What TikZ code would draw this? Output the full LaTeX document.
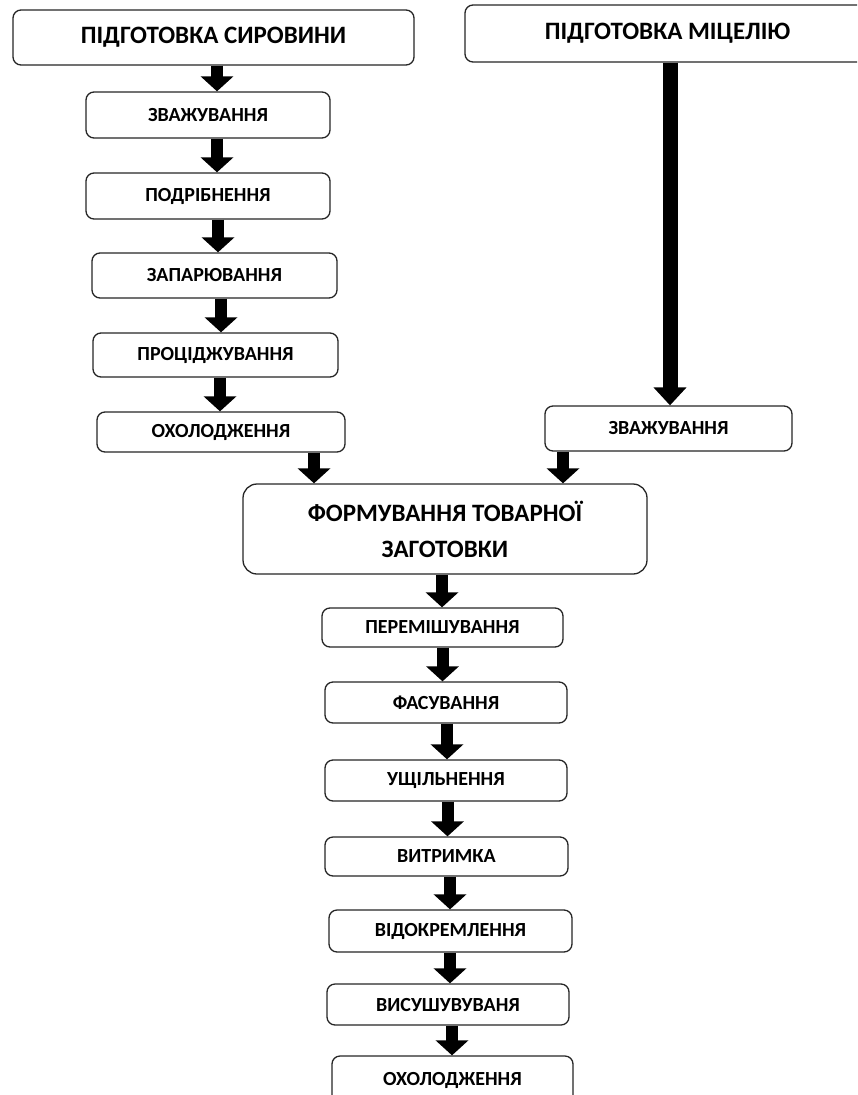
\documentclass[tikz,border=0pt]{standalone}
\usepackage{fontspec}
\setmainfont{Carlito}
\usetikzlibrary{arrows.meta}
\begin{document}
\begin{tikzpicture}[x=1pt,y=-1pt,
  box/.style={draw=black!85, line width=1.3pt, rounded corners=8pt, fill=white, inner sep=0pt, align=center, font=\bfseries\fontsize{20}{24}\selectfont},
  bigbox/.style={box, font=\bfseries\fontsize{25}{36}\selectfont},
  arr/.style={draw=black, line width=12pt, -{Triangle[width=32pt,length=15pt]}},
  longarr/.style={draw=black, line width=15pt, -{Triangle[width=32pt,length=18pt]}}]
\useasboundingbox (0,0) rectangle (857,1095);
\clip (0,0) rectangle (857,1095);
\node[bigbox, minimum width=401pt, minimum height=55pt] (b1) at (213.5,37.5) {ПІДГОТОВКА СИРОВИНИ};
\node[bigbox, minimum width=405pt, minimum height=57pt] (b2) at (667.5,33.5) {ПІДГОТОВКА МІЦЕЛІЮ};
\node[box, minimum width=244pt, minimum height=46pt] (z1) at (208,115) {ЗВАЖУВАННЯ};
\node[box, minimum width=244pt, minimum height=46pt] (p) at (208,196) {ПОДРІБНЕННЯ};
\node[box, minimum width=245pt, minimum height=45pt] (zap) at (214.5,275.5) {ЗАПАРЮВАННЯ};
\node[box, minimum width=245pt, minimum height=44pt] (pro) at (215.5,355) {ПРОЦІДЖУВАННЯ};
\node[box, minimum width=248pt, minimum height=40pt] (oh1) at (221,432) {ОХОЛОДЖЕННЯ};
\node[box, minimum width=247pt, minimum height=45pt] (z2) at (668.5,428.5) {ЗВАЖУВАННЯ};
\node[bigbox, minimum width=404pt, minimum height=90pt, rounded corners=14pt] (f) at (445,529) {ФОРМУВАННЯ ТОВАРНОЇ\\ЗАГОТОВКИ};
\node[box, minimum width=241pt, minimum height=39pt] (per) at (442.5,627.5) {ПЕРЕМІШУВАННЯ};
\node[box, minimum width=242pt, minimum height=41pt] (fas) at (446,702.5) {ФАСУВАННЯ};
\node[box, minimum width=242pt, minimum height=41pt] (ush) at (446,780.5) {УЩІЛЬНЕННЯ};
\node[box, minimum width=243pt, minimum height=39pt] (vyt) at (446.5,856.5) {ВИТРИМКА};
\node[box, minimum width=243pt, minimum height=42pt] (vid) at (450.5,931) {ВІДОКРЕМЛЕННЯ};
\node[box, minimum width=242pt, minimum height=41pt] (vys) at (448,1004.5) {ВИСУШУВУВАНЯ};
\node[box, minimum width=241pt, minimum height=48pt] (oh2) at (452.5,1080) {ОХОЛОДЖЕННЯ};
\draw[arr] ([xshift=3.5pt]b1.south) -- ([xshift=3.5pt]b1.south |- z1.north);
\draw[arr] ([xshift=9pt]z1.south) -- ([xshift=9pt]z1.south |- p.north);
\draw[arr] ([xshift=10pt]p.south) -- ([xshift=10pt]p.south |- zap.north);
\draw[arr] ([xshift=6.5pt]zap.south) -- ([xshift=6.5pt]zap.south |- pro.north);
\draw[arr] ([xshift=4.5pt]pro.south) -- ([xshift=4.5pt]pro.south |- oh1.north);
\draw[arr] ([xshift=93pt]oh1.south) -- ([xshift=93pt]oh1.south |- f.north);
\draw[longarr] ([xshift=2.5pt]b2.south) -- ([xshift=2.5pt]b2.south |- z2.north);
\draw[arr] ([xshift=-105.5pt]z2.south) -- ([xshift=-105.5pt]z2.south |- f.north);
\draw[arr] ([xshift=-3pt]f.south) -- ([xshift=-3pt]f.south |- per.north);
\draw[arr] (per.south) -- (per.south |- fas.north);
\draw[arr] ([xshift=1pt]fas.south) -- ([xshift=1pt]fas.south |- ush.north);
\draw[arr] ([xshift=1.5pt]ush.south) -- ([xshift=1.5pt]ush.south |- vyt.north);
\draw[arr] ([xshift=3.5pt]vyt.south) -- ([xshift=3.5pt]vyt.south |- vid.north);
\draw[arr] ([xshift=-0.5pt]vid.south) -- ([xshift=-0.5pt]vid.south |- vys.north);
\draw[arr] ([xshift=4pt]vys.south) -- ([xshift=4pt]vys.south |- oh2.north);
\end{tikzpicture}
\end{document}
